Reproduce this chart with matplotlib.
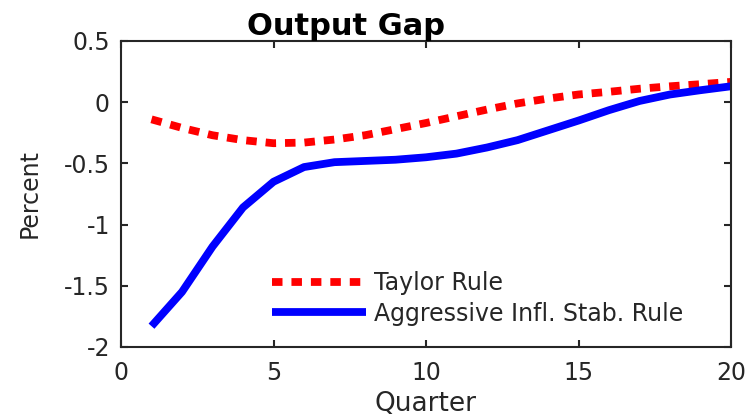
import matplotlib
matplotlib.use("Agg")
import matplotlib.pyplot as plt

plt.rcParams['font.family'] = ['DejaVu Sans']

quarters = list(range(1, 21))
taylor = [-0.14, -0.21, -0.27, -0.31, -0.335, -0.33, -0.305, -0.27, -0.22, -0.17,
          -0.115, -0.06, -0.01, 0.03, 0.063, 0.085, 0.11, 0.13, 0.147, 0.166]
aggressive = [-1.83, -1.55, -1.18, -0.86, -0.65, -0.53, -0.49, -0.48, -0.47, -0.45,
              -0.42, -0.37, -0.31, -0.23, -0.15, -0.065, 0.01, 0.063, 0.098, 0.13]
xticks = [0, 5, 10, 15, 20]
yticks = [-2, -1.5, -1, -0.5, 0, 0.5]
ytick_labels = ['-2', '-1.5', '-1', '-0.5', '0', '0.5']

ink = '#262626'

fig = plt.figure(figsize=(7.48, 4.18), dpi=100)
ax = fig.add_axes([121 / 748, 1 - 347 / 418, 610 / 748, 306 / 418])

ax.plot(quarters, taylor, color='#ff0000', lw=5.6, dashes=(1.35, 1.15),
        dash_capstyle='butt', label='Taylor Rule')
ax.plot(quarters, aggressive, color='#0000ff', lw=5.6, solid_capstyle='butt',
        label='Aggressive Infl. Stab. Rule')

ax.set_xlim(0, 20)
ax.set_ylim(-2, 0.5)
ax.set_xticks(xticks)
ax.set_yticks(yticks)
ax.set_yticklabels(ytick_labels)
ax.tick_params(direction='in', length=5, width=1.5, color=ink, labelcolor=ink,
               labelsize=17, top=True, right=True)
ax.tick_params(axis='y', pad=8)
ax.tick_params(axis='x', pad=10)
for s in ax.spines.values():
    s.set_color(ink)
    s.set_linewidth(1.5)

ax.set_xlabel('Quarter', fontsize=19, color=ink)
ax.xaxis.set_label_coords(0.5, -0.143)
ax.set_ylabel('Percent', fontsize=17, color=ink)
ax.yaxis.set_label_coords(-0.13, 0.5)
fig.text(346 / 748, 1 - 35 / 418, 'Output Gap', ha='center', va='baseline',
         fontsize=22, fontweight='bold', color='black')

ax.legend(loc='upper left', bbox_to_anchor=((272 - 121) / 610, (347 - 271) / 306),
          frameon=False, fontsize=17, handlelength=4.0, handletextpad=0.3,
          labelspacing=0.28, labelcolor=ink, borderpad=0, borderaxespad=0)

fig.savefig('out.png', dpi=100, facecolor='white')
